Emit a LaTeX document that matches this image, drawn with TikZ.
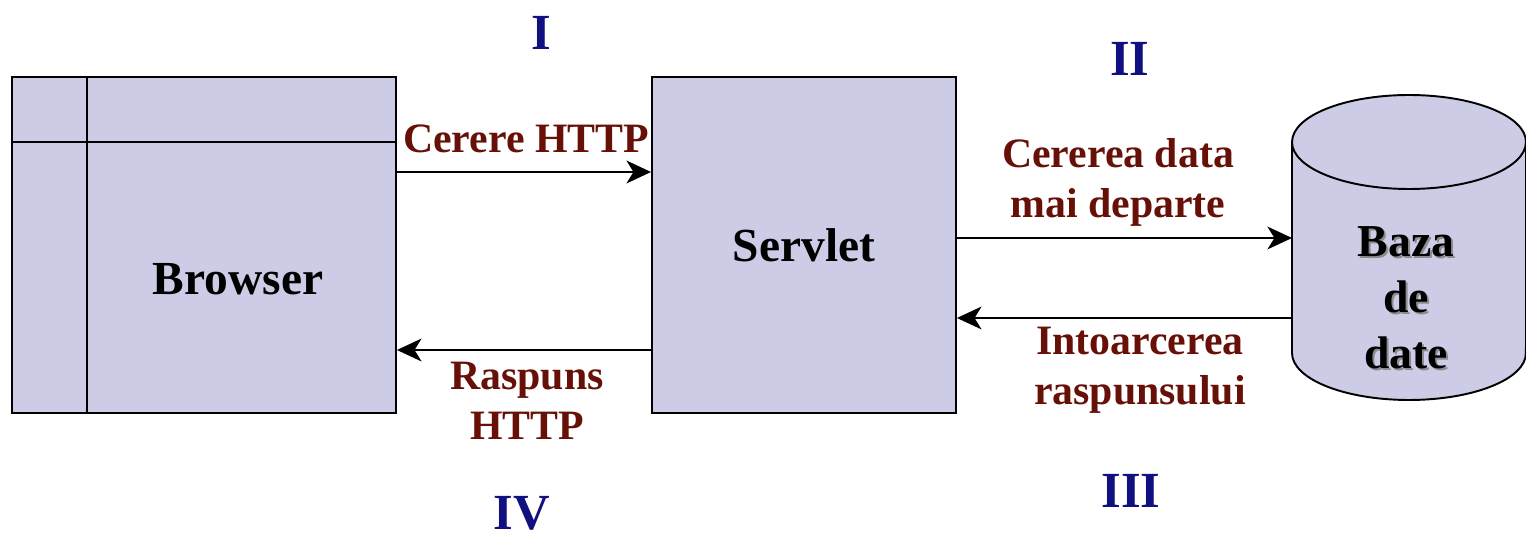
\documentclass[tikz,border=0pt]{standalone}
\usepackage{fontspec}
\setmainfont{Liberation Serif}
\usepackage{tikz}
\usetikzlibrary{arrows.meta,calc,positioning}
\definecolor{boxfill}{RGB}{204,204,230}
\definecolor{msgred}{RGB}{102,16,8}
\definecolor{stepblue}{RGB}{16,16,128}

\begin{document}
\begin{tikzpicture}[x=0.02cm,y=-0.02cm,
    block/.style={draw, line width=1.1pt, fill=boxfill, inner sep=0pt},
    msg/.style={text=msgred, font=\fontsize{23.8}{28.4}\selectfont\bfseries, align=center},
    numeral/.style={text=stepblue, inner sep=0pt, font=\fontsize{28.8}{30}\selectfont\bfseries},
    flow/.style={line width=1pt, -{Stealth[length=14pt,width=13pt,inset=4pt]}}]
    \useasboundingbox (0,0) rectangle (1526,540);

    % Browser
    \node[block, minimum width=7.68cm, minimum height=6.72cm] (browser) at (204,245) {};
    \draw[line width=1.1pt] ($(browser.north west)+(76,0)$) -- ($(browser.south west)+(76,0)$);
    \draw[line width=1.1pt] ($(browser.north west)+(0,66)$) -- ($(browser.north east)+(0,66)$);
    \node[font=\fontsize{27}{30}\selectfont\bfseries] (browserlbl) at (238,279) {Browser};

    % Servlet
    \node[block, minimum width=6.08cm, minimum height=6.72cm,
          font=\fontsize{27}{30}\selectfont\bfseries] (servlet) at (804,245) {Servlet};

    % Baza de date
    \filldraw[line width=1.1pt, fill=boxfill] (1292,142) -- (1292,353)
        arc[start angle=180, end angle=360, x radius=2.34cm, y radius=0.94cm] -- (1526,142)
        arc[start angle=0, end angle=180, x radius=2.34cm, y radius=0.94cm] -- cycle;
    \draw[line width=1.1pt] (1292,142) arc[start angle=180, end angle=360, x radius=2.34cm, y radius=0.94cm];
    \node[text=black!45, align=center, font=\fontsize{26}{32}\selectfont\bfseries] (dbshadow) at (1408,300) {Baza\\de\\date};
    \node[align=center, font=\fontsize{26}{32}\selectfont\bfseries] (dblabel) at (1406,298) {Baza\\de\\date};
    \coordinate (dbin) at (1292,238);
    \coordinate (dbout) at (1292,318);

    % Cereri si raspunsuri
    \draw[flow] ($(browser.east)+(0,-73)$) -- ($(servlet.west)+(0,-73)$);
    \draw[flow] ($(servlet.west)+(0,105)$) -- ($(browser.east)+(0,105)$);
    \draw[flow] (servlet.east |- dbin) -- (dbin);
    \draw[flow] (dbout) -- (servlet.east |- dbout);

    \node[msg] (cerere) at (526,139) {Cerere HTTP};
    \node[msg] (raspuns) at (527,401) {Raspuns\\HTTP};
    \node[msg] (cererea) at (1118,182) {Cererea data\\mai departe};
    \node[msg] (intoarcerea) at (1140,370) {Intoarcerea\\raspunsului};

    % Etape
    \node[numeral] (stepone) at (541,33) {I};
    \node[numeral] (steptwo) at (1130,59) {II};
    \node[numeral] (stepthree) at (1131,491) {III};
    \node[numeral] (stepfour) at (522,513) {IV};
\end{tikzpicture}
\end{document}
